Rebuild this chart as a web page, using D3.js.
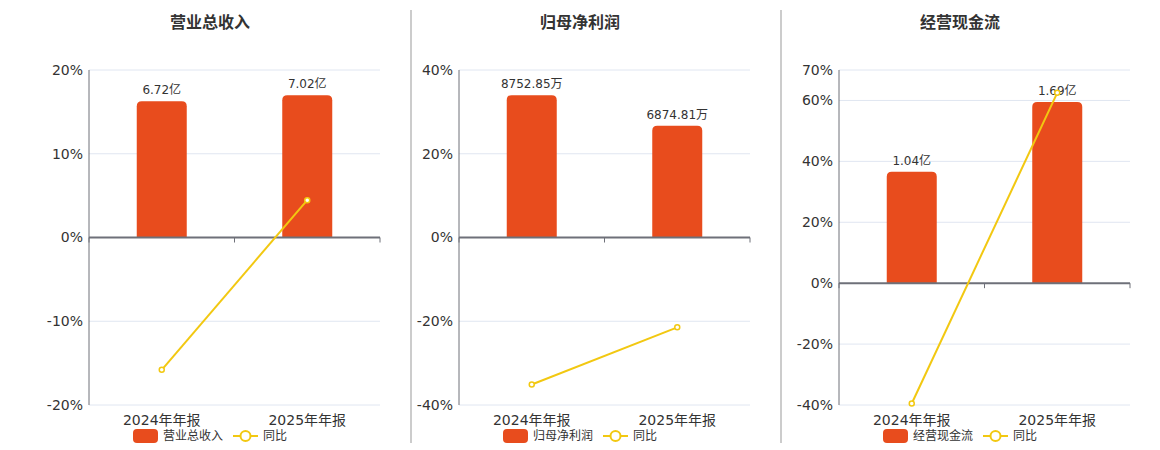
<!DOCTYPE html>
<html lang="zh">
<head>
<meta charset="utf-8">
<title>财务概览</title>
<script src="https://cdn.jsdelivr.net/npm/d3@7"></script>
<style>
  body { margin: 0; background: #fff; }
  svg { display: block; font-family: "DejaVu Sans", "Noto Sans CJK SC", sans-serif; }
</style>
</head>
<body>
<script>
// categories & values
var categories = ["2024年年报", "2025年年报"];

var revenue = [6.72, 7.02];            // 亿
var revenueLabels = ["6.72亿", "7.02亿"];
var revenueYoy = [-15.8, 4.46];        // %

var profit = [8752.85, 6874.81];       // 万
var profitLabels = ["8752.85万", "6874.81万"];
var profitYoy = [-35.1, -21.46];

var cash = [1.04, 1.69];               // 亿
var cashLabels = ["1.04亿", "1.69亿"];
var cashYoy = [-39.5, 62.5];

var titles = ["营业总收入", "归母净利润", "经营现金流"];
var yTicks1 = [-20, -10, 0, 10, 20];
var yTicks2 = [-40, -20, 0, 20, 40];
var yTicks3 = [-40, -20, 0, 20, 40, 60, 70];

var w = 1160, h = 450;
var plotTop = 70, plotBottom = 405;
var barColor = "#e84c1d", lineColor = "#f2c811";

var svg = d3.select("body").append("svg")
  .attr("width", w).attr("height", h);

// divider lines between panels
[411, 781].forEach(function(x) {
  svg.append("line")
    .attr("x1", x).attr("x2", x).attr("y1", 10).attr("y2", 443)
    .attr("stroke", "#999").attr("stroke-width", 1);
});

var panels = [
  { left: 89,  right: 380,  center: 210, title: titles[0], bars: revenue, labels: revenueLabels, yoy: revenueYoy, ticks: yTicks1 },
  { left: 459, right: 750,  center: 580, title: titles[1], bars: profit,  labels: profitLabels,  yoy: profitYoy,  ticks: yTicks2 },
  { left: 839, right: 1130, center: 960, title: titles[2], bars: cash,    labels: cashLabels,    yoy: cashYoy,    ticks: yTicks3 }
];

panels.forEach(function(p) {
  var g = svg.append("g");

  // title
  g.append("text")
    .attr("x", p.center).attr("y", 28)
    .attr("text-anchor", "middle")
    .attr("font-size", "16px").attr("font-weight", "bold")
    .attr("fill", "#333")
    .text(p.title);

  var x = d3.scaleBand().domain(categories).range([p.left, p.right]);
  var y = d3.scaleLinear()
    .domain([d3.min(p.ticks), d3.max(p.ticks)])
    .range([plotBottom, plotTop]);
  // bar axis: zero aligned to 0%, biggest bar at 85% of the positive range
  var yb = d3.scaleLinear()
    .domain([0, d3.max(p.bars) / 0.85])
    .range([y(0), plotTop]);

  // grid
  g.selectAll(".grid").data(p.ticks.filter(function(t) { return t !== 0; }))
    .enter().append("line")
    .attr("x1", p.left).attr("x2", p.right)
    .attr("y1", function(d) { return y(d); })
    .attr("y2", function(d) { return y(d); })
    .attr("stroke", "#e0e6f1").attr("stroke-width", 1);

  // left axis
  g.append("line")
    .attr("x1", p.left).attr("x2", p.left)
    .attr("y1", plotTop).attr("y2", plotBottom)
    .attr("stroke", "#6e7079").attr("stroke-width", 1);

  // y tick labels
  g.selectAll(".ylab").data(p.ticks)
    .enter().append("text")
    .attr("x", p.left - 6)
    .attr("y", function(d) { return y(d); })
    .attr("dy", "0.35em")
    .attr("text-anchor", "end")
    .attr("font-size", "14px").attr("fill", "#333")
    .text(function(d) { return d + "%"; });

  // bars
  var bw = 50;
  g.selectAll(".bar").data(p.bars)
    .enter().append("path")
    .attr("d", function(d, i) {
      var cx = x(categories[i]) + x.bandwidth() / 2;
      var x0 = cx - bw / 2, x1 = cx + bw / 2;
      var y0 = y(0), y1 = yb(d), r = 5;
      return "M" + x0 + "," + y0 + "V" + (y1 + r) +
        "Q" + x0 + "," + y1 + " " + (x0 + r) + "," + y1 +
        "H" + (x1 - r) + "Q" + x1 + "," + y1 + " " + x1 + "," + (y1 + r) +
        "V" + y0 + "Z";
    })
    .attr("fill", barColor);

  // bar labels
  g.selectAll(".blab").data(p.bars)
    .enter().append("text")
    .attr("x", function(d, i) { return x(categories[i]) + x.bandwidth() / 2; })
    .attr("y", function(d) { return yb(d) - 7; })
    .attr("text-anchor", "middle")
    .attr("font-size", "12px").attr("fill", "#333")
    .text(function(d, i) { return p.labels[i]; });

  // zero axis with ticks
  g.append("line")
    .attr("x1", p.left).attr("x2", p.right)
    .attr("y1", y(0)).attr("y2", y(0))
    .attr("stroke", "#6e7079").attr("stroke-width", 2);
  var bounds = [p.left, p.left + x.bandwidth(), p.right];
  g.selectAll(".tk").data(bounds)
    .enter().append("line")
    .attr("x1", function(d) { return d; }).attr("x2", function(d) { return d; })
    .attr("y1", y(0)).attr("y2", y(0) + 5)
    .attr("stroke", "#6e7079").attr("stroke-width", 1);

  // category labels
  g.selectAll(".xlab").data(categories)
    .enter().append("text")
    .attr("x", function(d) { return x(d) + x.bandwidth() / 2; })
    .attr("y", 425)
    .attr("text-anchor", "middle")
    .attr("font-size", "14px").attr("fill", "#333")
    .text(function(d) { return d; });

  // yoy line
  var line = d3.line()
    .x(function(d, i) { return x(categories[i]) + x.bandwidth() / 2; })
    .y(function(d) { return y(d); });
  g.append("path")
    .datum(p.yoy)
    .attr("d", line)
    .attr("fill", "none")
    .attr("stroke", lineColor).attr("stroke-width", 2);
  g.selectAll(".pt").data(p.yoy)
    .enter().append("circle")
    .attr("cx", function(d, i) { return x(categories[i]) + x.bandwidth() / 2; })
    .attr("cy", function(d) { return y(d); })
    .attr("r", 2.5)
    .attr("fill", "#fff")
    .attr("stroke", lineColor).attr("stroke-width", 1.5);

  // legend
  var lg = g.append("g").attr("transform", "translate(" + (p.center - 77) + ",436)");
  lg.append("rect")
    .attr("x", 0).attr("y", -7).attr("width", 25).attr("height", 14)
    .attr("rx", 4).attr("fill", barColor);
  lg.append("text")
    .attr("x", 30).attr("y", 0).attr("dy", "0.35em")
    .attr("font-size", "12px").attr("fill", "#333")
    .text(p.title);
  lg.append("line")
    .attr("x1", 100).attr("x2", 125).attr("y1", 0).attr("y2", 0)
    .attr("stroke", lineColor).attr("stroke-width", 2);
  lg.append("circle")
    .attr("cx", 112.5).attr("cy", 0).attr("r", 5)
    .attr("fill", "#fff").attr("stroke", lineColor).attr("stroke-width", 2);
  lg.append("text")
    .attr("x", 130).attr("y", 0).attr("dy", "0.35em")
    .attr("font-size", "12px").attr("fill", "#333")
    .text("同比");
});
</script>
</body>
</html>
